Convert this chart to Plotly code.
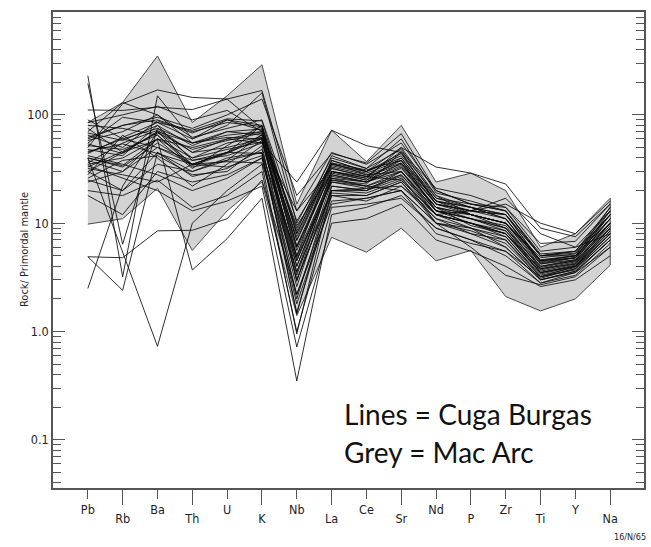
import plotly.graph_objects as go

elements = ["Pb", "Rb", "Ba", "Th", "U", "K", "Nb", "La", "Ce", "Sr", "Nd", "P", "Zr", "Ti", "Y", "Na"]

# Mac Arc envelope (grey field)
mac_upper = [85, 130, 350, 85, 150, 290, 15, 72, 37, 80, 24, 29, 20, 6.0, 8.0, 17]
mac_lower = [9.8, 11, 21, 5.6, 13, 24, 1.4, 7.4, 5.4, 9.0, 4.5, 5.6, 2.1, 1.55, 2.0, 4.1]

# Cuga Burgas samples (one list per sample, Pb ... Na)
cb01 = [230, 3.2, 150, 60, 90, 80, 6.0, 30, 27, 35, 15, 12, 10, 4.5, 5.0, 10]
cb02 = [195, 6.4, 75, 45, 60, 70, 4.0, 25, 22, 30, 13, 11, 9.0, 4.0, 4.5, 9.0]
cb03 = [2.5, 22, 70, 40, 55, 62, 3.0, 20, 20, 26, 12, 10, 8.0, 3.5, 4.0, 8.0]
cb04 = [4.9, 4.8, 8.5, 8.6, 11, 25, 2.2, 15, 17, 20, 10, 9.0, 6.0, 3.0, 3.5, 7.0]
cb05 = [4.9, 2.4, 45, 30, 40, 45, 1.5, 18, 16, 22, 11, 8.0, 7.0, 3.2, 3.8, 7.5]
cb06 = [40, 5.5, 0.73, 10, 20, 35, 0.95, 20, 19, 25, 12, 10, 8.0, 3.8, 4.2, 9.0]
cb07 = [30, 45, 59, 3.7, 7.2, 17, 0.35, 12, 14, 18, 9.0, 7.0, 5.0, 2.8, 3.5, 6.0]
cb08 = [111, 110, 118, 112, 140, 75, 8.0, 35, 30, 40, 16, 13, 12, 5.0, 5.5, 12]
cb09 = [50, 127, 170, 145, 140, 168, 13, 45, 35, 55, 20, 15, 14, 5.5, 6.0, 13]
cb10 = [35, 40, 60, 50, 60, 55, 24, 72, 52, 45, 18, 14, 12, 5.0, 5.0, 11]
cb11 = [60, 80, 90, 70, 85, 78, 5.0, 38, 30, 50, 33, 29, 23, 9.0, 7.5, 15]
cb12 = [45, 60, 75, 55, 70, 65, 3.5, 30, 26, 38, 16, 12, 10, 4.2, 4.6, 11]
cb13 = [38, 30, 50, 35, 45, 60, 2.9, 28, 24, 32, 14, 12, 9.0, 3.6, 4.2, 10]
cb14 = [55, 95, 85, 60, 80, 160, 10, 40, 32, 48, 17, 14, 11, 4.5, 5.0, 14]
cb15 = [25, 20, 35, 30, 38, 45, 1.45, 22, 20, 28, 13, 10, 8.0, 3.4, 4.0, 8.5]
cb16 = [70, 130, 100, 55, 65, 70, 7.0, 36, 28, 30, 14, 12, 10, 4.8, 5.2, 12]
cb17 = [28, 65, 40, 22, 35, 58, 4.5, 25, 23, 45, 15, 13, 11, 4.2, 4.8, 13]
cb18 = [65, 50, 88, 68, 90, 72, 6.9, 33, 28, 36, 13, 11, 9.5, 3.8, 4.4, 10]
cb19 = [42, 35, 28, 20, 26, 40, 2.2, 18, 18, 24, 11, 9.0, 7.0, 3.0, 3.6, 7.0]
cb20 = [80, 75, 65, 35, 45, 80, 8.5, 42, 32, 60, 19, 16, 13, 5.2, 5.5, 14]
cb21 = [32, 28, 24, 35, 37, 36, 3.6, 20, 21, 22, 12, 10, 8.5, 3.7, 4.3, 9.5]
cb22 = [48, 42, 80, 38, 45, 65, 5.6, 30, 25, 40, 16, 14, 12, 4.4, 4.8, 12]
cb23 = [20, 18, 25, 14, 18, 30, 1.0, 14, 15, 17, 9.0, 7.0, 5.5, 2.8, 3.3, 6.5]
cb24 = [58, 70, 100, 62, 75, 90, 10.5, 35, 30, 42, 17, 15, 13, 5.0, 5.3, 12]
cb25 = [36, 55, 72, 45, 50, 60, 4.5, 28, 24, 33, 14, 11, 9.0, 3.9, 4.5, 10]
cb26 = [90, 60, 50, 38, 42, 55, 13, 32, 27, 25, 12, 13, 17, 8.0, 6.0, 8.0]
cb27 = [26, 38, 42, 28, 30, 52, 2.0, 22, 20, 30, 13, 11, 8.5, 3.5, 4.0, 9.0]
cb28 = [75, 45, 70, 55, 62, 60, 7.5, 34, 29, 38, 15, 13, 15, 10, 8.0, 16]
cb29 = [18, 12, 30, 24, 28, 40, 1.8, 16, 17, 20, 10, 8.0, 6.0, 3.0, 3.6, 7.0]
cb30 = [52, 48, 65, 33, 38, 66, 6.0, 30, 26, 50, 18, 12, 10, 4.0, 4.6, 11]
cb31 = [44, 62, 85, 72, 92, 88, 8.0, 38, 30, 44, 16, 14, 11, 4.3, 4.8, 12]
cb32 = [34, 26, 20, 13, 16, 22, 0.72, 10, 11, 15, 7.0, 5.5, 4.0, 2.6, 3.0, 5.0]
cb33 = [62, 80, 95, 75, 100, 140, 18, 44, 36, 67, 20, 15, 13, 5.0, 5.5, 13]
cb34 = [40, 33, 55, 35, 33, 42, 2.6, 24, 22, 28, 12, 10, 7.5, 3.3, 3.9, 8.0]
cb35 = [46, 54, 44, 35, 45, 44, 5.0, 27, 24, 30, 12, 9.0, 7.5, 3.2, 3.7, 7.5]
cb36 = [85, 100, 120, 90, 110, 70, 9.0, 36, 31, 38, 13, 12, 10, 4.6, 5.0, 11]
cb37 = [30, 20, 45, 27, 32, 48, 3.0, 19, 18, 24, 10, 8.5, 6.5, 3.1, 3.8, 8.0]
cb38 = [24, 30, 60, 40, 48, 56, 4.0, 26, 24, 36, 15, 13, 12, 4.5, 4.8, 10]
cb39 = [54, 44, 70, 34, 44, 62, 3.3, 26, 22, 20, 8.0, 6.5, 5.5, 3.2, 4.0, 8.5]
cb40 = [68, 58, 80, 52, 70, 74, 6.2, 32, 27, 46, 21, 18, 14, 6.5, 6.8, 15]
cb41 = [40, 34, 60, 32, 52, 80, 4.8, 24, 21, 27, 10, 6.0, 3.3, 2.7, 3.2, 6.0]
cb42 = [33, 46, 68, 48, 58, 68, 9.5, 29, 25, 34, 14, 9.5, 8.0, 3.5, 4.1, 9.0]

samples = [cb01, cb02, cb03, cb04, cb05, cb06, cb07, cb08, cb09, cb10,
           cb11, cb12, cb13, cb14, cb15, cb16, cb17, cb18, cb19, cb20,
           cb21, cb22, cb23, cb24, cb25, cb26, cb27, cb28, cb29, cb30,
           cb31, cb32, cb33, cb34, cb35, cb36, cb37, cb38, cb39, cb40,
           cb41, cb42]

idx = list(range(len(elements)))

fig = go.Figure()

# grey envelope
fig.add_trace(go.Scatter(
    x=idx + idx[::-1],
    y=mac_upper + mac_lower[::-1],
    mode="lines", fill="toself", fillcolor="#d3d3d3",
    line=dict(color="#4a4a4a", width=1), hoverinfo="skip", showlegend=False))

# sample lines
xs, ys = [], []
for s in samples:
    xs += idx + [None]
    ys += s + [None]
fig.add_trace(go.Scatter(x=xs, y=ys, mode="lines",
                         line=dict(color="rgba(10,10,10,0.85)", width=1.0),
                         showlegend=False, hoverinfo="skip"))

# invisible trace for the second (lower-row) x axis
fig.add_trace(go.Scatter(x=[0], y=[1], mode="markers", marker=dict(opacity=0),
                         xaxis="x2", showlegend=False, hoverinfo="skip"))

narrow = "Liberation Sans Narrow, Arial Narrow, DejaVu Sans Condensed, sans-serif"
tick_font = dict(family=narrow, size=12.5, color="#1e1e28")

minor_vals = []
for p in [0.01, 0.1, 1, 10, 100]:
    for d in range(2, 10):
        minor_vals.append(round(d * p, 6))

xr = [-1.0, 15.97]
fig.update_layout(
    width=651, height=547, autosize=False,
    margin=dict(l=53, r=5, t=12, b=59),
    paper_bgcolor="white", plot_bgcolor="white",
    xaxis=dict(range=xr, showgrid=False, zeroline=False, showline=True,
               linecolor="#555", linewidth=1.5, mirror=True,
               ticks="outside", ticklen=9, tickwidth=1, tickcolor="#555",
               tickmode="array", tickvals=idx[0::2], ticktext=elements[0::2],
               tickfont=tick_font),
    xaxis2=dict(range=xr, overlaying="x", anchor="y", side="bottom",
                showgrid=False, zeroline=False, showline=False,
                ticks="outside", ticklen=16, tickwidth=1, tickcolor="#555",
                tickmode="array", tickvals=idx[1::2], ticktext=elements[1::2],
                tickfont=tick_font, ticklabelstandoff=3),
    yaxis=dict(type="log", range=[-1.445, 2.95], showgrid=False, zeroline=False,
               showline=True, linecolor="#555", linewidth=1.5, mirror="ticks",
               ticks="inside", ticklen=12, tickwidth=1, tickcolor="#555",
               tickmode="array", tickvals=[0.1, 1, 10, 100],
               ticktext=["0.1", "1.0", "10", "100"], tickfont=tick_font,
               minor=dict(ticks="inside", ticklen=8, tickwidth=1, tickcolor="#555",
                          tickmode="array", tickvals=minor_vals, showgrid=False)),
    annotations=[
        dict(text="Rock/ Primordal mantle", xref="paper", yref="paper",
             x=-0.049, y=0.5, textangle=-90, showarrow=False,
             xanchor="center", yanchor="middle",
             font=dict(family=narrow, size=11, color="#1e1e28")),
        dict(text="Lines = Cuga Burgas", xref="paper", yref="paper",
             x=0.489, y=0.155, showarrow=False, xanchor="left", yanchor="middle",
             font=dict(family="Lato, sans-serif", size=28, color="#111")),
        dict(text="Grey = Mac Arc", xref="paper", yref="paper",
             x=0.489, y=0.076, showarrow=False, xanchor="left", yanchor="middle",
             font=dict(family="Lato, sans-serif", size=28, color="#111")),
        dict(text="16/N/65", xref="paper", yref="paper",
             x=1.0067, y=-0.103, showarrow=False, xanchor="right", yanchor="middle",
             font=dict(family=narrow, size=9, color="#1e1e28")),
    ],
)

fig.write_html("out.html")
